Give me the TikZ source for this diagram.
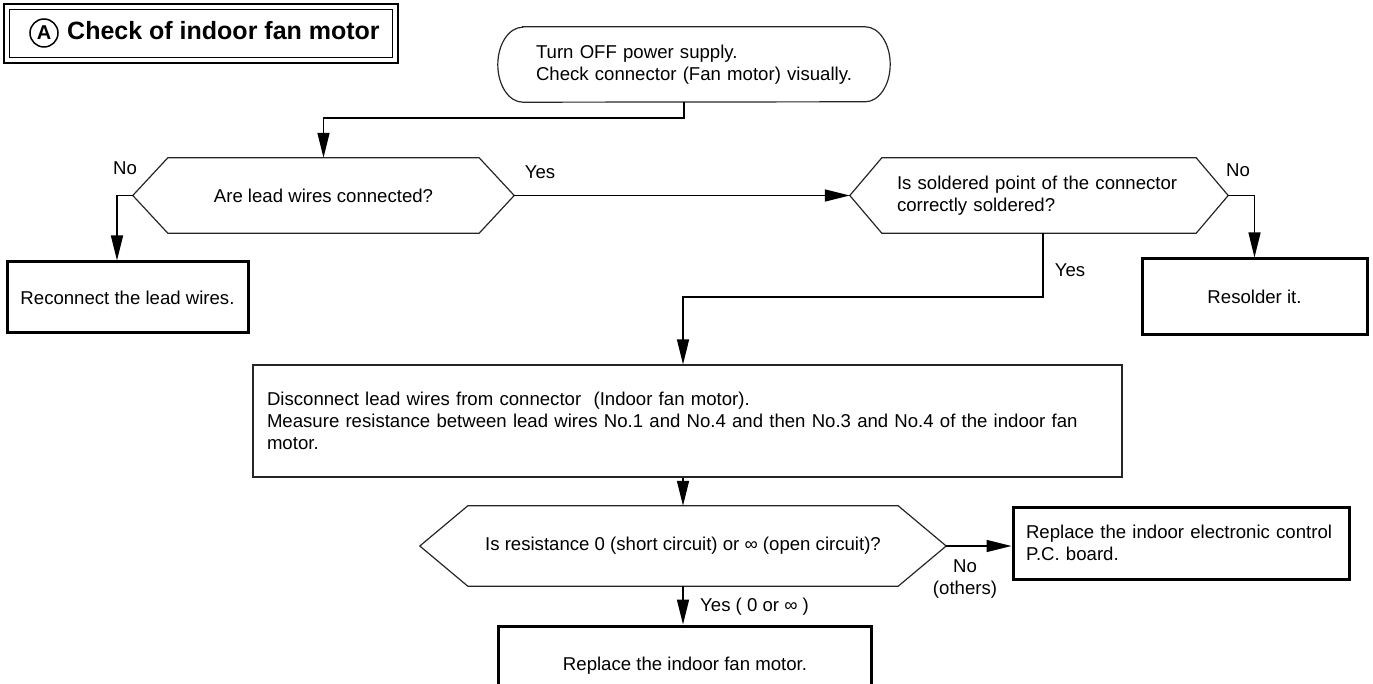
\documentclass[tikz,border=0pt]{standalone}
\usepackage{fontspec}
\setmainfont{Liberation Sans}
\usetikzlibrary{arrows.meta,calc}
\newcommand\hexpath[2]{\draw[thinline] (#1.west) -- ([xshift=#2]#1.north west) -- ([xshift=-#2]#1.north east) -- (#1.east) -- ([xshift=-#2]#1.south east) -- ([xshift=#2]#1.south west) -- cycle;}
\begin{document}
\begin{tikzpicture}[x=1pt,y=-1pt,
  every node/.style={font=\fontsize{18.6pt}{22pt}\selectfont, inner sep=0pt},
  conn/.style={line width=1.4pt},
  arr/.style={conn,-{Triangle[length=25pt,width=12pt]}},
  thickbox/.style={draw, line width=3pt, align=center},
  thinline/.style={draw=black!85, line width=1.2pt},
  thinbox/.style={draw=black!85, line width=1.2pt}
]
\useasboundingbox (0,0) rectangle (1373,684);

% title
\draw[line width=2.5pt] (4,4) rectangle (398,63);
\draw[line width=1.8pt] (9.5,9.5) rectangle (392.5,57.5);
\node[draw, circle, line width=1.5pt, minimum size=28pt, font=\fontsize{20pt}{24pt}\selectfont\bfseries] (circA) at (44,33) {A};
\node[anchor=base west, font=\fontsize{25pt}{30pt}\selectfont\bfseries] (title) at (67,40) {Check of indoor fan motor};

% start terminal
\node[text width=316pt, inner xsep=38pt, minimum height=75pt, align=left] (term) at (694,64.5) {Turn OFF power supply.\\Check connector (Fan motor) visually.};
\draw[thinline] ([xshift=25pt]term.north west) -- ([xshift=-25pt]term.north east)
  arc[start angle=90, end angle=-90, x radius=25pt, y radius=37.5pt]
  -- ([xshift=25pt]term.south west)
  arc[start angle=270, end angle=90, x radius=25pt, y radius=37.5pt] -- cycle;

% decisions
\node[minimum width=381pt, minimum height=75pt] (h1) at (323.5,195.5) {Are lead wires connected?};
\hexpath{h1}{35pt}
\node[text width=284pt, inner xsep=47pt, minimum height=75pt, align=left] (h2) at (1039,195.5) {Is soldered point of the connector\\correctly soldered?};
\hexpath{h2}{32pt}
\node[minimum width=526pt, minimum height=80pt] (h3) at (683,546) {Is resistance 0 (short circuit) or ∞ (open circuit)?};
\hexpath{h3}{48pt}

% boxes
\node[thickbox, minimum width=241pt, minimum height=71pt] (rec) at (127.5,297.5) {Reconnect the lead wires.};
\node[thickbox, minimum width=225pt, minimum height=76pt] (res) at (1254.5,297) {Resolder it.};
\node[thinbox, text width=841pt, inner xsep=14pt, minimum height=112pt, align=left] (proc) at (687.5,421) {Disconnect lead wires from connector\ \ (Indoor fan motor).\\Measure resistance between lead wires No.1 and No.4 and then No.3 and No.4 of the indoor fan\\motor.};
\node[thickbox, text width=310pt, inner xsep=13pt, minimum height=72pt, align=left] (pc) at (1181,543) {Replace the indoor electronic control\\P.C. board.};
\node[thickbox, minimum width=373pt, minimum height=80pt] (fin) at (685,666) {Replace the indoor fan motor.};

% connectors
\coordinate (j1) at (684,118);
\draw[arr] (j1 |- term.south) -- (j1) -| (h1.north);
\draw[arr] (h1.west) -| ([xshift=-10.5pt]rec.north);
\draw[arr] (h1.east) -- (h2.west);
\draw[arr] (h2.east) -| (res.north);
\coordinate (j2) at (683,297);
\draw[arr] ([xshift=4pt]h2.south) |- (j2) -- (j2 |- proc.north);
\draw[arr] (proc.south -| h3.north) -- (h3.north);
\draw[arr] (h3.south) -- (h3.south |- fin.north);
\draw[arr] (h3.east) -- (h3.east -| pc.west);

% labels
\node (no1) at (125,168) {No};
\node (yes1) at (540,172) {Yes};
\node (no2) at (1238,170) {No};
\node (yes2) at (1070,270) {Yes};
\node[anchor=west] (yes3) at (700,607) {Yes ( 0 or ∞ )};
\node[align=center] (no3) at (965,579) {No\\(others)};
\end{tikzpicture}
\end{document}
